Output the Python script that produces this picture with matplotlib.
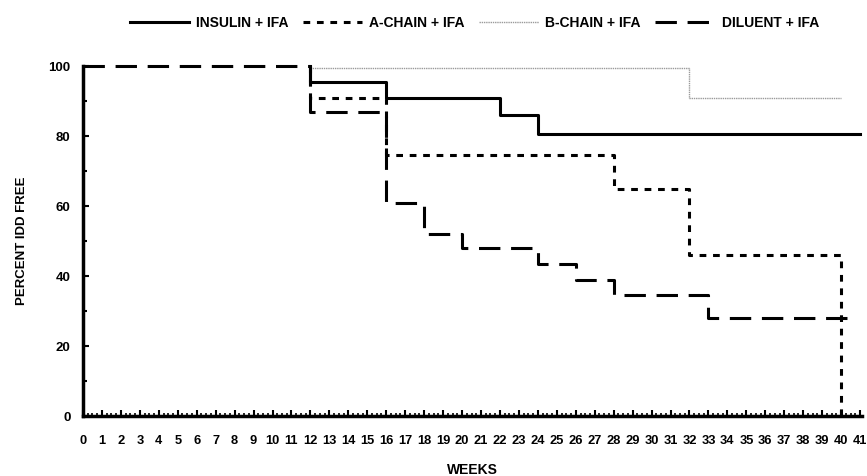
import numpy as np
import matplotlib
matplotlib.use("Agg")
import matplotlib.pyplot as plt
from matplotlib.ticker import MultipleLocator

plt.rcParams['font.family'] = ['Liberation Sans Narrow', 'Liberation Sans', 'DejaVu Sans']
plt.rcParams['font.weight'] = 'bold'

# step curves: week of each step and percent IDD free after it
insulin_wk = [12, 12, 16, 22, 24, 41]
insulin_pct = [100, 95.5, 91, 86, 80.5, 80.5]
achain_wk = [12, 12, 16, 28, 32, 40, 40]
achain_pct = [100, 91, 74.5, 65, 46, 46, 0]
bchain_wk = [12, 32, 40]
bchain_pct = [99.5, 91, 91]
diluent_wk = [0, 12, 16, 18, 20, 24, 26, 28, 33, 40.7]
diluent_pct = [100, 87, 61, 52, 48, 43.5, 39, 34.5, 28, 28]

weeks = list(range(0, 42))
yticks = [0, 20, 40, 60, 80, 100]

fig = plt.figure(figsize=(8.67, 4.76), dpi=100)
ax = fig.add_axes([0.0957, 0.126, 0.8985, 0.735])

ax.step(insulin_wk, insulin_pct, where='post', color='black', lw=2.2,
        label='INSULIN + IFA', clip_on=False, zorder=3)
ax.step(achain_wk, achain_pct, where='post', color='black', lw=2.2,
        ls=(0, (2.2, 2.2)), label='A-CHAIN + IFA', clip_on=False, zorder=3)
ax.step(bchain_wk, bchain_pct, where='post', color='#9a9a9a', lw=1.0,
        ls=(0, (1, 0.6)), label='B-CHAIN + IFA', clip_on=False, zorder=2)
ax.step(diluent_wk, diluent_pct, where='post', color='black', lw=2.2,
        ls=(0, (7, 3.5)), label='DILUENT + IFA', clip_on=False, zorder=4)

ax.set_xlim(0, 41.1)
ax.set_ylim(0, 100)
ax.set_xticks(weeks)
ax.set_xticklabels([str(w) for w in weeks])
ax.xaxis.set_minor_locator(MultipleLocator(0.25))
ax.set_yticks(yticks)
ax.yaxis.set_minor_locator(MultipleLocator(10))

for s in ['top', 'right']:
    ax.spines[s].set_visible(False)
for s in ['left', 'bottom']:
    ax.spines[s].set_linewidth(2.5)

ax.tick_params(axis='x', which='major', direction='in', length=4, width=1.5,
               labelsize=9.3, pad=14)
ax.tick_params(axis='x', which='minor', direction='in', length=2, width=1.2)
ax.tick_params(axis='y', which='major', direction='in', length=4, width=1.5,
               labelsize=9.5, pad=9)
ax.tick_params(axis='y', which='minor', direction='in', length=3, width=1.5)

ax.set_xlabel('WEEKS', fontsize=10, fontweight='heavy', labelpad=11)
ax.set_ylabel('PERCENT IDD FREE', fontsize=9.5, fontweight='heavy', labelpad=15)

fig.legend(loc='center', bbox_to_anchor=(0.547, 0.952), ncol=4, frameon=False,
           fontsize=10, handlelength=4.3, handletextpad=0.5, columnspacing=1.0)

fig.savefig('out.png', dpi=100)
